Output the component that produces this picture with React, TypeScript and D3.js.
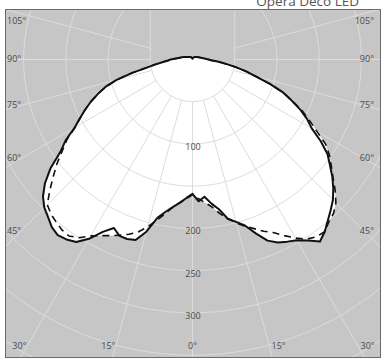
import React from 'react';
import * as d3 from 'd3';

// Photometric polar diagram, intensities (cd/klm)
const ANGLES = [0, 2.5, 5, 7.5, 10, 12.5, 15, 17.5, 20, 22.5, 25, 27.5, 30, 32.5, 35, 37.5, 40, 42.5, 45, 47.5, 50, 52.5, 55, 57.5, 60, 62.5, 65, 67.5, 70, 72.5, 75, 77.5, 80, 82.5, 85, 87.5, 90, 95, 100, 105, 120, 135, 150, 165, 180];

// solid curve, left half (C180)
const C180 = [159, 164, 170, 176, 183, 192, 211, 224, 226, 226, 220, 230, 245, 256, 260, 262, 259, 253, 248, 240, 228, 212, 191, 178, 161, 150, 140, 130, 119, 108, 93, 73, 55, 44, 35, 29, 26, 18, 14, 11, 6, 4, 3, 2, 1];
// solid curve, right half (C0)
const C0 = [159, 168, 163, 172, 180, 193, 199, 206, 219, 232, 239, 243, 247, 254, 263, 257, 249, 242, 235, 226, 216, 205, 195, 180, 163, 153, 141, 127, 114, 96, 78, 65, 52, 40, 31, 22, 19, 14, 11, 9, 6, 4, 3, 2, 1];
// dashed curve, left half (C270)
const C270 = [160, 165, 170, 176, 185, 195, 205, 214, 220, 225, 230, 235, 241, 250, 255, 254, 251, 248, 243, 229, 215, 202, 188, 176, 160, 150, 140, 130, 119, 108, 93, 73, 55, 44, 35, 29, 26, 18, 14, 11, 6, 4, 3, 2, 1];
// dashed curve, right half (C90)
const C90 = [160, 165, 170, 176, 185, 193, 200, 207, 213, 220, 226, 235, 244, 252, 256, 257, 251, 247, 240, 229, 217, 207, 198, 187, 170, 156, 143, 128, 114, 96, 78, 65, 52, 40, 31, 22, 19, 14, 11, 9, 6, 4, 3, 2, 1];

const INNER_RING = 50;
const RINGS = [100, 150, 200, 250, 300, 350, 400, 450];
const RING_LABELS = [100, 200, 250, 300];
const SPOKES = [0, 15, 30, 45, 60, 75, 90, 105];
const TITLE = 'Opera Deco LED';

export default function App() {
  const W = 381;
  const H = 359;
  const cx = 192.5;
  const cy = 59.5;
  const fx0 = 5.5, fy0 = 9.5, fx1 = 380.5, fy1 = 357.5;
  const r = d3.scaleLinear().domain([0, 50]).range([0, 42.25]);
  const rad = (d: number) => (d * Math.PI) / 180;

  const loop = (left: number[], right: number[]) => {
    const pts: [number, number][] = [];
    for (let i = ANGLES.length - 1; i >= 0; i--) pts.push([Math.PI + rad(ANGLES[i]), r(left[i])]);
    for (let i = 1; i < ANGLES.length; i++) pts.push([Math.PI - rad(ANGLES[i]), r(right[i])]);
    return pts;
  };
  const radial = d3
    .lineRadial<[number, number]>()
    .angle((d) => d[0])
    .radius((d) => d[1])
    .curve(d3.curveLinearClosed);

  const solidPath = radial(loop(C180, C0)) || '';
  const dashPath = radial(loop(C270, C90)) || '';

  const gridColor = '#dcdcdc';
  const textColor = '#4a4a4a';
  const font = '"Open Sans", "DejaVu Sans", sans-serif';

  const r50 = r(INNER_RING);
  const innerArc = `M${cx - r50},${cy} A${r50},${r50} 0 0 0 ${cx + r50},${cy}`;

  const spokes: { x1: number; y1: number; x2: number; y2: number; key: string }[] = [];
  SPOKES.forEach((a) => {
    [-1, 1].forEach((s) => {
      if (a === 0 && s === 1) return;
      const t = rad(a);
      const r1 = r(600);
      spokes.push({
        key: `${a}_${s}`,
        x1: cx + s * r50 * Math.sin(t),
        y1: cy + r50 * Math.cos(t),
        x2: cx + s * r1 * Math.sin(t),
        y2: cy + r1 * Math.cos(t),
      });
    });
  });

  // angle labels
  const labels: { x: number; y: number; anchor: string; text: string; key: string }[] = [];
  const sideX = 20;
  const bottomY = 347;
  SPOKES.forEach((a) => {
    [-1, 1].forEach((s) => {
      if (a === 0 && s === 1) return;
      const t = rad(a);
      const text = `${a}°`;
      const dxSide = cx - sideX;
      if ((a > 0 && Math.tan(t) > dxSide / (bottomY - cy)) || a >= 90) {
        let y = cy + dxSide / Math.tan(t);
        if (a === 90) y = cy;
        y = Math.max(22, Math.min(bottomY, y));
        labels.push({ key: `${a}_${s}`, x: s < 0 ? 7 : 374, y, anchor: s < 0 ? 'start' : 'end', text });
      } else {
        const x = cx + s * (bottomY - cy) * Math.tan(t);
        labels.push({
          key: `${a}_${s}`,
          x: a === 0 ? cx : x + (s < 0 ? 0 : 2),
          y: bottomY,
          anchor: a === 0 ? 'middle' : s < 0 ? 'end' : 'start',
          text,
        });
      }
    });
  });

  return (
    <svg
      width={W}
      height={H}
      viewBox={`0 0 ${W} ${H}`}
      style={{ position: 'absolute', left: 0, top: 0, background: '#ffffff' }}
    >
      <defs>
        <clipPath id="frameClip">
          <rect x={fx0} y={fy0} width={fx1 - fx0} height={fy1 - fy0} />
        </clipPath>
      </defs>
      <text x={359} y={6} textAnchor="end" fontFamily={font} fontSize={13.5} fill="#555">
        {TITLE}
      </text>
      <rect x={fx0} y={fy0} width={fx1 - fx0} height={fy1 - fy0} fill="#c6c6c6" />
      <g clipPath="url(#frameClip)">
        <g transform={`translate(${cx},${cy})`}>
          <path d={dashPath} fill="#ffffff" />
          <path d={solidPath} fill="#ffffff" />
        </g>
        <path d={innerArc} fill="none" stroke={gridColor} strokeWidth={1} />
        {RINGS.map((v) => (
          <circle key={v} cx={cx} cy={cy} r={r(v)} fill="none" stroke={gridColor} strokeWidth={1} />
        ))}
        {spokes.map((l) => (
          <line key={l.key} x1={l.x1} y1={l.y1} x2={l.x2} y2={l.y2} stroke={gridColor} strokeWidth={1} />
        ))}
        {[-1, 1].map((s) => (
          <line
            key={`v${s}`}
            x1={cx + s * r50}
            y1={cy}
            x2={cx + s * r50}
            y2={fy0}
            stroke={gridColor}
            strokeWidth={1}
          />
        ))}
        <g transform={`translate(${cx},${cy})`}>
          <path
            d={dashPath}
            fill="none"
            stroke="#111"
            strokeWidth={1.6}
            strokeDasharray="7,5"
            strokeLinejoin="round"
          />
          <path d={solidPath} fill="none" stroke="#111" strokeWidth={2} strokeLinejoin="round" />
        </g>
        {RING_LABELS.map((v) => (
          <text
            key={v}
            x={cx + 0.5}
            y={cy + r(v) + 3.5}
            textAnchor="middle"
            dominantBaseline="middle"
            fontFamily={font}
            fontSize={9}
            fill={textColor}
          >
            {v}
          </text>
        ))}
        {labels.map((l) => (
          <text
            key={l.key}
            x={l.x}
            y={l.y}
            textAnchor={l.anchor}
            dominantBaseline="middle"
            fontFamily={font}
            fontSize={9}
            fill={textColor}
          >
            {l.text}
          </text>
        ))}
      </g>
      <rect
        x={fx0}
        y={fy0}
        width={fx1 - fx0}
        height={fy1 - fy0}
        fill="none"
        stroke="#6a6a6a"
        strokeWidth={1}
      />
    </svg>
  );
}
